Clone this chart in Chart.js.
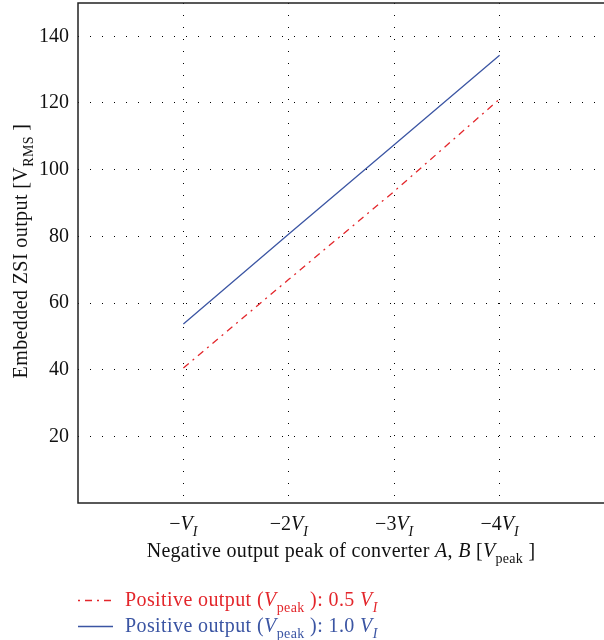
<!DOCTYPE html>
<html><head><meta charset="utf-8">
<script src="https://cdn.jsdelivr.net/npm/chart.js@4"></script>
<style>html,body{margin:0;padding:0;background:#fff;overflow:hidden}#wrap{width:604px;height:640px;overflow:hidden;position:relative}</style>
</head><body><div id="wrap"><canvas id="c" width="612" height="640" style="width:612px;height:640px"></canvas></div>
<script>
// ---- data ----
const xValues = [1, 2, 3, 4];
const xTickLabels = ['−*V*_{*I*}', '−2*V*_{*I*}', '−3*V*_{*I*}', '−4*V*_{*I*}'];
const seriesHalf = [40.5, 67.1, 93.5, 121.2];
const seriesFull = [53.7, 80.7, 107.5, 134.3];
const yTickValues = [20, 40, 60, 80, 100, 120, 140];
const labelHalf = 'Positive output (*V*_{peak} ): 0.5 *V*_{*I*}';
const labelFull = 'Positive output (*V*_{peak} ): 1.0 *V*_{*I*}';
const xTitle = 'Negative output peak of converter *A*, *B* [*V*_{peak} ]';
const yTitle = 'Embedded ZSI output [V_{RMS} ]';

const FAM = '"Liberation Serif", "Times New Roman", serif';
const FS = 20;
const RED = '#e3262b';
const BLUE = '#3b55a3';

function parseRich(str) {
  const out = [];
  for (const p of str.split(/(_\{[^}]*\}|\*[^*]*\*)/)) {
    if (!p) continue;
    if (p.startsWith('_{')) {
      const inner = p.slice(2, -1);
      if (inner.startsWith('*')) out.push([inner.slice(1, -1), 'si']);
      else out.push([inner, 's']);
    } else if (p.startsWith('*')) out.push([p.slice(1, -1), 'i']);
    else out.push([p, 'n']);
  }
  return out;
}
function fontFor(s, size) {
  return (s.includes('i') ? 'italic ' : '') + (s.includes('s') ? Math.round(size * 0.72) : size) + 'px ' + FAM;
}
function richWidth(ctx, parts, size) {
  let w = 0;
  for (const [t, s] of parts) { ctx.font = fontFor(s, size); w += ctx.measureText(t).width; }
  return w;
}
function drawRich(ctx, str, x, y, align, color, size, spacing) {
  ctx.letterSpacing = (spacing || 0) + 'px';
  const parts = parseRich(str);
  const w = richWidth(ctx, parts, size);
  let cx = align === 'center' ? x - w / 2 : align === 'right' ? x - w : x;
  ctx.fillStyle = color; ctx.textBaseline = 'alphabetic'; ctx.textAlign = 'left';
  for (const [t, s] of parts) {
    ctx.font = fontFor(s, size);
    ctx.fillText(t, cx, y + (s.includes('s') ? size * 0.28 : 0));
    cx += ctx.measureText(t).width;
  }
  ctx.letterSpacing = '0px';
}

const decor = {
  id: 'decor',
  beforeDatasetsDraw(chart) {
    const {ctx, chartArea: a} = chart;
    ctx.save();
    ctx.strokeStyle = '#222'; ctx.lineWidth = 1.5; ctx.setLineDash([]);
    ctx.strokeRect(a.left, a.top, a.right - a.left, a.bottom - a.top);
    ctx.restore();
  },
  afterDraw(chart) {
    const {ctx, chartArea: a} = chart;
    const xs = chart.scales.x;
    ctx.save();
    xValues.forEach((v, i) => {
      drawRich(ctx, xTickLabels[i], xs.getPixelForValue(v), a.bottom + 27, 'center', '#111', FS, 0);
    });
    drawRich(ctx, xTitle, 341, a.bottom + 54, 'center', '#111', FS, 0.3);
    ctx.save();
    ctx.translate(27, 251);
    ctx.rotate(-Math.PI / 2);
    drawRich(ctx, yTitle, 0, 0, 'center', '#111', FS, 0.4);
    ctx.restore();
    // legend
    const items = [[chart.data.datasets[0], 600], [chart.data.datasets[1], 626]];
    for (const [ds, ly] of items) {
      ctx.save();
      ctx.strokeStyle = ds.borderColor; ctx.lineWidth = 1.3;
      ctx.setLineDash(ds.borderDash || []);
      ctx.lineDashOffset = ds.borderDash ? 12 : 0;
      ctx.beginPath(); ctx.moveTo(78, ly + 0.5); ctx.lineTo(113, ly + 0.5); ctx.stroke();
      ctx.restore();
      drawRich(ctx, ds.label, 125, ly + 6, 'left', ds.borderColor, FS, 0.4);
    }
    ctx.restore();
  }
};

new Chart(document.getElementById('c'), {
  type: 'line',
  data: {
    datasets: [
      { label: labelHalf, data: xValues.map((x, i) => ({x, y: seriesHalf[i]})),
        borderColor: RED, borderWidth: 1.3, borderDash: [7, 5, 2, 5], pointRadius: 0, tension: 0, fill: false },
      { label: labelFull, data: xValues.map((x, i) => ({x, y: seriesFull[i]})),
        borderColor: BLUE, borderWidth: 1.3, pointRadius: 0, tension: 0, fill: false }
    ]
  },
  options: {
    responsive: false, animation: false, devicePixelRatio: 1,
    layout: { padding: { top: 3, right: 7, bottom: 0, left: 0 } },
    plugins: { legend: { display: false }, tooltip: { enabled: false } },
    scales: {
      x: {
        type: 'linear', min: 0, max: 5,
        afterBuildTicks: s => { s.ticks = xValues.map(v => ({value: v})); },
        afterFit: s => { s.height = 137; s.paddingLeft = 0; s.paddingRight = 0; },
        ticks: { display: false },
        grid: { color: '#000', lineWidth: 1, drawTicks: false },
        border: { display: false, dash: [1, 11] }
      },
      y: {
        min: 0, max: 150,
        afterBuildTicks: s => { s.ticks = yTickValues.map(v => ({value: v})); },
        afterFit: s => { s.width = 78; s.paddingTop = 0; s.paddingBottom = 0; },
        ticks: { color: '#111', padding: 9, font: { family: FAM, size: FS } },
        grid: { color: '#000', lineWidth: 1, drawTicks: false },
        border: { display: false, dash: [1, 11], dashOffset: 0 }
      }
    }
  },
  plugins: [decor]
});
</script></body></html>
